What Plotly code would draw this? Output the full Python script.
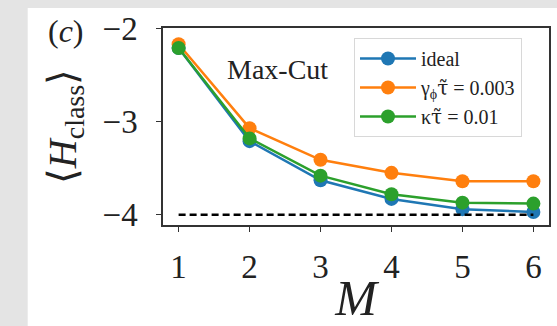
import plotly.graph_objects as go

# Number of layers M and mean classical energy for each noise model
M = [1, 2, 3, 4, 5, 6]
h_ideal = [-2.21, -3.21, -3.63, -3.83, -3.94, -3.97]
h_dephasing = [-2.17, -3.07, -3.41, -3.55, -3.64, -3.64]
h_decay = [-2.21, -3.18, -3.58, -3.78, -3.87, -3.88]
ground_energy = -4.0

TAU = '<span style="font-family:DejaVu Serif">τ̃</span>'
series_names = ["ideal", f"γ<sub>ϕ</sub>{TAU} = 0.003", f"κ{TAU} = 0.01"]
series_values = [h_ideal, h_dephasing, h_decay]
series_colors = ["#1f77b4", "#ff7f0e", "#2ca02c"]

y_ticks = [-2, -3, -4]
y_tick_text = ["−2", "−3", "−4"]

SERIF = "Liberation Serif"
INK = "#222"

fig = go.Figure()
for name, vals, col in zip(series_names, series_values, series_colors):
    fig.add_trace(go.Scatter(
        x=M, y=vals, name=name, mode="lines+markers",
        line=dict(color=col, width=2.5),
        marker=dict(color=col, size=14),
    ))

# exact ground-state energy reference
fig.add_trace(go.Scatter(
    x=[M[0], M[-1]], y=[ground_energy, ground_energy], mode="lines",
    line=dict(color="black", width=2.5, dash="7px,4px"),
    showlegend=False, hoverinfo="skip",
))

L, R, T, B = 163, 6, 28, 100
W, H = 557, 326
pw, ph = W - L - R, H - T - B

def px_to_paper_x(px):
    return (px - L) / pw

def px_to_paper_y(py):
    return (H - B - py) / ph

# white page on a light grey backdrop
fig.add_shape(type="rect", xref="paper", yref="paper", layer="below",
              x0=px_to_paper_x(27), x1=px_to_paper_x(W + 5),
              y0=px_to_paper_y(H + 5), y1=px_to_paper_y(8),
              fillcolor="white", line=dict(width=0))

fig.add_annotation(text="(<i>c</i>)", xref="paper", yref="paper",
                   x=px_to_paper_x(65), y=px_to_paper_y(31),
                   xanchor="center", yanchor="middle",
                   showarrow=False, font=dict(family=SERIF, size=32, color=INK))
fig.add_annotation(text="Max-Cut", xref="paper", yref="paper",
                   x=px_to_paper_x(278), y=px_to_paper_y(70),
                   xanchor="center", yanchor="middle",
                   showarrow=False, font=dict(family=SERIF, size=28, color=INK))

axis_common = dict(
    showline=True, linecolor="#333", linewidth=1.5, mirror=True,
    ticks="outside", ticklen=5, tickwidth=1.2, tickcolor="#333",
    showgrid=False, zeroline=False,
    tickfont=dict(family=SERIF, size=33, color=INK),
)

fig.update_layout(
    width=W, height=H,
    margin=dict(l=L, r=R, t=T, b=B),
    font=dict(family=SERIF, color=INK),
    paper_bgcolor="#e4e4e4", plot_bgcolor="white",
    showlegend=True,
    legend=dict(
        x=px_to_paper_x(355), y=px_to_paper_y(38), xanchor="left", yanchor="top",
        bgcolor="rgba(255,255,255,0.85)", bordercolor="#d8d8d8", borderwidth=1,
        font=dict(family=SERIF, size=20, color=INK),
        itemwidth=56,
    ),
    xaxis=dict(axis_common, range=[0.78, 6.22], tickvals=M, ticklabelstandoff=7,
               title=dict(text="<i>M</i>", standoff=0,
                          font=dict(family=SERIF, size=50, color=INK))),
    yaxis=dict(axis_common, range=[-4.11, -1.995], tickvals=y_ticks, ticktext=y_tick_text,
               ticklabelstandoff=12,
               title=dict(text="⟨<i>H</i><sub>class</sub>⟩", standoff=14,
                          font=dict(family=SERIF, size=40, color=INK))),
)

fig.write_html("out.html")
